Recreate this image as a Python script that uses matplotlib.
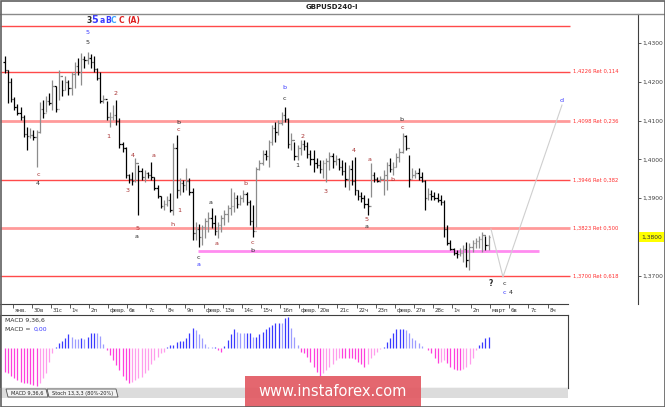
import numpy as np
import matplotlib.pyplot as plt
from matplotlib.patches import Rectangle, Polygon
from matplotlib.lines import Line2D

plt.rcParams['font.family'] = ['DejaVu Sans']

# GBPUSD H4 bars, 26 Jan (last 3 bars) .. 2 Mar
highs = [1.4266, 1.4230, 1.4210, 1.4161, 1.4143, 1.4135, 1.4114, 1.4083, 1.4081, 1.4076,
         1.4076, 1.4147, 1.4153, 1.4163, 1.4171, 1.4205, 1.4189, 1.4230, 1.4205, 1.4215,
         1.4205, 1.4225, 1.4251, 1.4261, 1.4274, 1.4266, 1.4277, 1.4272, 1.4266, 1.4236,
         1.4225, 1.4166, 1.4150, 1.4122, 1.4140, 1.4153, 1.4107, 1.4045, 1.4032, 1.3962,
         1.3968, 1.4004, 1.3986, 1.3978, 1.3973, 1.3968, 1.3993, 1.3955, 1.3934, 1.3906,
         1.3895, 1.3906, 1.3913, 1.4042, 1.4063, 1.3952, 1.3947, 1.3978, 1.3952, 1.3926,
         1.3839, 1.3834, 1.3831, 1.3849, 1.3864, 1.3875, 1.3857, 1.3839, 1.3857, 1.3870,
         1.3882, 1.3926, 1.3916, 1.3908, 1.3908, 1.3921, 1.3916, 1.3895, 1.3882, 1.3980,
         1.3998, 1.4024, 1.4024, 1.4050, 1.4089, 1.4096, 1.4102, 1.4122, 1.4135, 1.4107,
         1.4068, 1.4045, 1.4037, 1.4050, 1.4050, 1.4045, 1.4024, 1.4024, 1.4004, 1.3998,
         1.3998, 1.4004, 1.4019, 1.4016, 1.4011, 1.4004, 1.3998, 1.3993, 1.3986, 1.3998,
         1.4006, 1.3921, 1.3916, 1.3908, 1.3900, 1.3991, 1.3968, 1.3955, 1.3958, 1.3973,
         1.3993, 1.4004, 1.3993, 1.4016, 1.4029, 1.4068, 1.4063, 1.4011, 1.3978, 1.3973,
         1.3978, 1.3968, 1.3947, 1.3926, 1.3921, 1.3916, 1.3913, 1.3908, 1.3895, 1.3831,
         1.3792, 1.3771, 1.3766, 1.3771, 1.3779, 1.3787, 1.3785, 1.3792, 1.3797, 1.3803,
         1.3813, 1.3803, 1.3805]
lows = [1.4222, 1.4145, 1.4148, 1.4127, 1.4114, 1.4102, 1.4058, 1.4024, 1.4055, 1.4050,
        1.3980, 1.4067, 1.4106, 1.4122, 1.4140, 1.4127, 1.4122, 1.4153, 1.4163, 1.4179,
        1.4166, 1.4166, 1.4184, 1.4217, 1.4192, 1.4236, 1.4246, 1.4236, 1.4225, 1.4205,
        1.4145, 1.4145, 1.4102, 1.4083, 1.4102, 1.4089, 1.4029, 1.4019, 1.3952, 1.3939,
        1.3934, 1.3942, 1.3857, 1.3947, 1.3942, 1.3952, 1.3947, 1.3921, 1.3900, 1.3875,
        1.3870, 1.3880, 1.3864, 1.3857, 1.3900, 1.3908, 1.3916, 1.3921, 1.3908, 1.3792,
        1.3792, 1.3774, 1.3779, 1.3797, 1.3813, 1.3823, 1.3805, 1.3797, 1.3813, 1.3831,
        1.3839, 1.3857, 1.3864, 1.3875, 1.3882, 1.3890, 1.3882, 1.3831, 1.3800, 1.3826,
        1.3973, 1.3986, 1.3998, 1.3980, 1.4037, 1.4045, 1.4063, 1.4089, 1.4096, 1.4029,
        1.4024, 1.3998, 1.3998, 1.4011, 1.4024, 1.4004, 1.3986, 1.3968, 1.3978, 1.3965,
        1.3952, 1.3942, 1.3973, 1.3978, 1.3986, 1.3973, 1.3960, 1.3929, 1.3921, 1.3934,
        1.3908, 1.3895, 1.3890, 1.3875, 1.3857, 1.3903, 1.3942, 1.3942, 1.3942, 1.3908,
        1.3921, 1.3968, 1.3960, 1.3980, 1.3993, 1.4016, 1.4024, 1.3929, 1.3952, 1.3952,
        1.3947, 1.3942, 1.3870, 1.3895, 1.3895, 1.3895, 1.3890, 1.3882, 1.3800, 1.3779,
        1.3766, 1.3753, 1.3746, 1.3751, 1.3735, 1.3723, 1.3715, 1.3761, 1.3771, 1.3771,
        1.3761, 1.3766, 1.3766]
closes = [1.4230, 1.4200, 1.4155, 1.4135, 1.4120, 1.4108, 1.4065, 1.4060, 1.4062, 1.4058,
          1.4070, 1.4130, 1.4120, 1.4150, 1.4145, 1.4190, 1.4130, 1.4215, 1.4180, 1.4200,
          1.4185, 1.4220, 1.4240, 1.4225, 1.4260, 1.4255, 1.4262, 1.4250, 1.4232, 1.4210,
          1.4150, 1.4155, 1.4110, 1.4110, 1.4115, 1.4100, 1.4040, 1.4030, 1.3960, 1.3950,
          1.3945, 1.3990, 1.3970, 1.3955, 1.3965, 1.3960, 1.3955, 1.3925, 1.3905, 1.3880,
          1.3885, 1.3895, 1.3870, 1.4030, 1.3920, 1.3940, 1.3935, 1.3945, 1.3915, 1.3810,
          1.3820, 1.3800, 1.3825, 1.3840, 1.3850, 1.3835, 1.3815, 1.3830, 1.3850, 1.3860,
          1.3875, 1.3880, 1.3900, 1.3885, 1.3900, 1.3910, 1.3890, 1.3840, 1.3815, 1.3975,
          1.3990, 1.4015, 1.4010, 1.4045, 1.4080, 1.4070, 1.4095, 1.4115, 1.4105, 1.4040,
          1.4050, 1.4010, 1.4030, 1.4040, 1.4035, 1.4015, 1.4000, 1.3990, 1.3985, 1.3975,
          1.3990, 1.3995, 1.4010, 1.3995, 1.4000, 1.3980, 1.3970, 1.3950, 1.3975, 1.3945,
          1.3920, 1.3905, 1.3900, 1.3885, 1.3880, 1.3960, 1.3950, 1.3945, 1.3950, 1.3960,
          1.3985, 1.3975, 1.3980, 1.4005, 1.4020, 1.4060, 1.4030, 1.3950, 1.3960, 1.3965,
          1.3955, 1.3945, 1.3900, 1.3910, 1.3905, 1.3900, 1.3895, 1.3890, 1.3820, 1.3785,
          1.3770, 1.3760, 1.3755, 1.3760, 1.3770, 1.3740, 1.3775, 1.3785, 1.3790, 1.3795,
          1.3805, 1.3780, 1.3800]
first_open = 1.4250

# MACD(9,36,6) histogram, one value per bar (scaled units)
macd_hist = [-23.3, -25, -27.7, -30, -31.7, -33.3, -35, -35, -36, -36.7, -37.7, -35, -30, -25, -13.3, -5,
             1.7, 5.7, 7.7, 10, 14, 11.7, 9.3, 9, 10, 9, 11.7, 15.7, 15.7, 15, 12, 4,
             -1.7, -6.7, -11.7, -16.7, -21.7, -28, -31.7, -34.3, -33.3, -31.7, -30, -29, -25, -21.7,
             -15.7, -11.7, -8.3, -5, -3.3,
             1,
             3.3, 3.3, 6.7, 7.7, 7.7, 10.7, 15, 20, 18.3, 14, 10.7, 4, 1.7, 1, 1.7,
             -1.5, -3.5,
             2,
             8.3, 14, 19, 16.7, 15.7, 15, 15, 15.7, 11.7, 11.7, 14, 16.7, 19, 21, 23.3, 25, 25.7,
             25, 30, 31.7, 20, 11.7, 3.3,
             -3.3, -5, -8.3, -13.3, -18.3, -23.3, -27.7, -25, -21.7, -19, -15.7, -11.7, -10, -10,
             -10, -10, -10, -11, -13.3, -15.7, -18.3, -15.7, -10, -6.7, -3.3,
             -1,
             1.7, 6.7, 10, 15, 19, 19, 19.3, 18.3, 15, 10, 8.3, 5, 2.5,
             0.8,
             -1.7, -5, -9.3, -15, -13.3, -12, -15, -18.3, -21, -21.7, -21.7, -20.5, -18.3, -16, -10, -2,
             3.3, 6.7, 10, 11.7]

day_labels = ['янв.', '30в', '31с', '1ч', '2п', 'февр.', '6в', '7с', '8ч', '9п',
              'февр.', '13в', '14с', '15ч', '16п', 'февр.', '20в', '21с', '22ч', '23п',
              'февр.', '27в', '28с', '1ч', '2п', 'март', '6в', '7с', '8ч']

price_ticks = [1.37, 1.38, 1.39, 1.40, 1.41, 1.42, 1.43]
current_price = 1.3800
fib_levels = [1.4344, 1.4226, 1.4098, 1.3946, 1.3823, 1.3700]
fib_texts = ['', '1,4226 Ret 0,114', '1,4098 Ret 0,236', '1,3946 Ret 0,382',
             '1,3823 Ret 0,500', '1,3700 Ret 0,618']
fib_soft = [False, False, True, False, True, False]
support_level = 1.3765
forecast_t = [25.04, 25.67, 28.76]
forecast_p = [1.3821, 1.3697, 1.4140]

DK, RD, BL = '#2b2b2b', '#a83232', '#3838ff'
wave_labels = [
    (3.94, 1.4326, '5', BL), (3.94, 1.4300, '5', DK),
    (5.36, 1.4171, '2', RD), (4.99, 1.4060, '1', RD),
    (6.30, 1.4011, '4', RD), (6.04, 1.3919, '3', RD),
    (6.51, 1.3821, '5', RD), (6.51, 1.3800, 'a', DK),
    (1.32, 1.3960, 'c', RD), (1.32, 1.3937, '4', DK),
    (7.35, 1.4009, 'a', RD), (8.34, 1.3832, 'h', RD), (8.71, 1.3867, '1', RD),
    (8.66, 1.4096, 'b', DK), (8.66, 1.4078, 'c', RD),
    (9.71, 1.3748, 'c', DK), (9.71, 1.3728, 'a', BL),
    (10.38, 1.3890, 'a', DK), (10.70, 1.3782, 'a', RD),
    (12.21, 1.3937, 'b', RD),
    (12.53, 1.3785, 'c', RD), (12.53, 1.3764, 'b', DK),
    (14.21, 1.4184, 'b', BL), (14.21, 1.4158, 'c', DK),
    (14.88, 1.3983, '1', DK), (15.20, 1.4060, '2', RD),
    (16.36, 1.3916, '3', RD), (17.87, 1.4022, '4', RD),
    (18.55, 1.3844, '5', RD), (18.55, 1.3826, 'a', DK),
    (18.71, 1.4001, 'a', RD), (19.86, 1.3947, 'b', RD),
    (20.38, 1.4102, 'b', DK), (20.38, 1.4081, 'c', RD),
    (25.72, 1.3681, 'c', DK), (25.72, 1.3658, 'c', BL), (26.09, 1.3658, '4', DK),
    (28.76, 1.4151, 'd', BL),
]
header = [(4.00, '3', DK), (4.31, '5', BL), (4.68, 'a', BL), (4.99, 'B', BL),
          (5.30, 'C', '#3aa0ff'), (5.67, 'C', '#dd2222'), (6.35, '(A)', '#dd2222')]

W, H = 665, 407
n = len(closes)
t = (np.arange(n) - 2.5) / 6
opens = [first_open] + closes[:-1]


def box(x0, y0, x1, y1):
    return [x0 / W, 1 - y1 / H, (x1 - x0) / W, (y1 - y0) / H]


fig = plt.figure(figsize=(W / 100, H / 100), dpi=100)

# price panel
ax = fig.add_axes(box(0, 14, 638, 304))
ax.set_xlim(-0.665, 32.74)
ax.set_ylim(1.36273, 1.43747)
for s in ['left', 'top', 'bottom']:
    ax.spines[s].set_visible(False)
ax.spines['right'].set_color('#404040')
ax.spines['right'].set_linewidth(0.8)
ax.set_xticks([])
ax.yaxis.tick_right()
ax.set_yticks(price_ticks)
ax.set_yticklabels(['' if abs(v - current_price) < 1e-9 else f'{v:.4f}'.replace('.', ',')
                    for v in price_ticks])
ax.tick_params(axis='y', length=2.5, width=0.6, pad=0.8, labelsize=4.3, colors='#404040')
ax.text(1.0048, current_price, f'{current_price:.4f}'.replace('.', ','), fontsize=4.3,
        color='#303030', va='center', ha='left', transform=ax.get_yaxis_transform(),
        bbox=dict(fc='#ffff00', ec='none', pad=1.6))

for lev, txt, soft in zip(fib_levels, fib_texts, fib_soft):
    ax.hlines(lev, -0.665, 29.18, color='#ff9a9a' if soft else '#ff4a4a',
              lw=2.0 if soft else 1.0, zorder=1)
    if txt:
        ax.text(29.34, lev, txt, fontsize=3.8, color='#ff3030', va='center', ha='left')

ax.hlines(support_level, 9.70, 27.55, color='#ff8cf0', lw=2.0, zorder=1)
ax.plot(forecast_t, forecast_p, color='#cfcfcf', lw=0.8, zorder=1)

cols = ['#000000' if c < o else '#8c8c8c' for o, c in zip(opens, closes)]
ax.vlines(t, lows, highs, colors=cols, lw=0.9, zorder=3)
ax.hlines(opens, t - 0.07, t, colors=cols, lw=0.9, zorder=3)
ax.hlines(closes, t, t + 0.07, colors=cols, lw=0.9, zorder=3)

for x, y, s, c in wave_labels:
    ax.text(x, y, s, fontsize=4.6, color=c, ha='center', va='center', zorder=4)
ax.text(25.04, 1.3679, '?', fontsize=5.5, color=DK, ha='center', va='center',
        fontweight='bold')
for x, s, c in header:
    ax.text(x, 1.4359, s, fontsize=7 if s == '5' else 5.5, color=c, ha='center',
            va='center', fontweight='bold')

# time axis strip
ax2 = fig.add_axes(box(0, 304, 568, 315))
ax2.set_xlim(-0.665, 29.07)
ax2.set_ylim(0, 1)
for s in ['left', 'right', 'bottom']:
    ax2.spines[s].set_visible(False)
ax2.spines['top'].set_color('#404040')
ax2.spines['top'].set_linewidth(0.8)
ax2.xaxis.tick_top()
ax2.set_xticks(range(len(day_labels)))
ax2.tick_params(axis='x', direction='in', length=3, width=0.6, labeltop=False,
                colors='#404040')
ax2.set_yticks([])
for k, lab in enumerate(day_labels):
    ax2.text(k + 0.09, 0.42, lab, fontsize=4, color='#303030', ha='left', va='center')

# MACD panel
ax3 = fig.add_axes(box(0, 315, 568, 388))
ax3.set_xlim(-0.665, 29.07)
ax3.set_ylim(-39.7, 33.3)
ax3.set_xticks([])
ax3.set_yticks([])
for s in ax3.spines.values():
    s.set_color('#404040')
    s.set_linewidth(0.8)
mcols = []
prev = 0.0
for v in macd_hist:
    if v >= 0:
        mcols.append('#3a3aff' if v >= prev else '#9d9dff')
    else:
        mcols.append('#ff3fdc' if v <= prev else '#ff9cec')
    prev = v
ax3.vlines(t, 0, macd_hist, colors=mcols, lw=0.9)
ax3.text(0.009, 0.93, 'MACD 9,36,6', transform=ax3.transAxes, fontsize=4.4,
         color='#303030', va='center', ha='left')
ax3.text(0.009, 0.80, 'MACD =', transform=ax3.transAxes, fontsize=4.4,
         color='#303030', va='center', ha='left')
ax3.text(0.060, 0.80, '0,00', transform=ax3.transAxes, fontsize=4.4,
         color='#3838ff', va='center', ha='left')

# figure decorations
ft = fig.transFigure


def fx(px):
    return px / W


def fy(py):
    return 1 - py / H


fig.add_artist(Line2D([0, 1], [fy(14), fy(14)], transform=ft, color='#8a8a8a', lw=1.0))
fig.text(fx(332), fy(7), 'GBPUSD240-I', fontsize=5, fontweight='bold', color='#202020',
         ha='center', va='center')

fig.add_artist(Rectangle((fx(0), fy(398)), fx(568), fy(388) - fy(398), transform=ft,
                         fc='#dcdcdc', ec='none'))
tab1 = [(6, 389), (46, 389), (48, 397), (8, 397)]
tab2 = [(47, 389), (116, 389), (118, 397), (49, 397)]
for tb in [tab2, tab1]:
    fig.add_artist(Polygon([(fx(a), fy(b)) for a, b in tb], closed=True, transform=ft,
                           fc='#f2f2f2', ec='#505050', lw=0.6))
fig.text(fx(27), fy(393), 'MACD 9,36,6', fontsize=3.6, color='#202020', ha='center',
         va='center')
fig.text(fx(83), fy(393), 'Stoch 13,3,3 (80%-20%)', fontsize=3.6, color='#202020',
         ha='center', va='center')

fig.add_artist(Rectangle((fx(245), fy(407)), fx(421) - fx(245), fy(376) - fy(407),
                         transform=ft, fc='#e25a63', ec='none', alpha=0.92, zorder=10))
fig.text(fx(333), fy(392), 'www.instaforex.com', fontsize=10.5, color='white',
         ha='center', va='center', zorder=11)

fig.add_artist(Rectangle((0.5 / W, 0.5 / H), 1 - 1 / W, 1 - 1 / H, transform=ft,
                         fill=False, ec='#606060', lw=1.2, zorder=12))

fig.savefig('out.png', dpi=100)
